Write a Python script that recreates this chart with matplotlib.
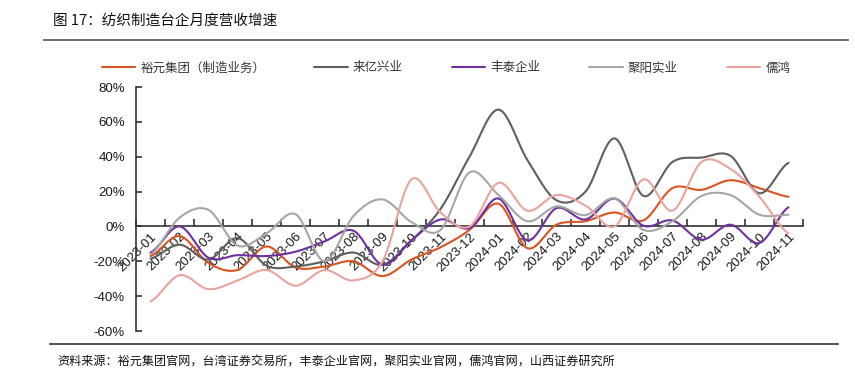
import numpy as np
import matplotlib
matplotlib.use("Agg")
import matplotlib.pyplot as plt
from matplotlib.lines import Line2D
from matplotlib.ticker import FixedLocator, FuncFormatter

plt.rcParams['font.family'] = ['Liberation Sans', 'Noto Sans CJK SC', 'DejaVu Sans']

months = ["2023-01", "2023-02", "2023-03", "2023-04", "2023-05", "2023-06",
          "2023-07", "2023-08", "2023-09", "2023-10", "2023-11", "2023-12",
          "2024-01", "2024-02", "2024-03", "2024-04", "2024-05", "2024-06",
          "2024-07", "2024-08", "2024-09", "2024-10", "2024-11"]

yuyuan = [-17, -5.5, -21, -25, -11.5, -23.5, -23, -20, -28.5, -19, -12, -2,
          13, -12.5, 1, 3, 8, 3.5, 22, 21, 26.5, 22, 17]
laiyi = [-18.5, -10.5, -19, -6.7, -22.5, -23, -20, -15, -22, -8, 10, 40,
         67, 38, 15, 20, 50.5, 17.5, 37, 39.5, 40.5, 19, 36.5]
fengtai = [-15, 0, -18, -16.5, -17, -14.5, -8.6, -2.5, -22, -8, 4, -1,
           16, -8, 10.5, 4, 16, 0.4, 3.4, -7.6, 1, -9.5, 11]
juyang = [-16, 5, 9.5, -11, -4, 7, -20, 6, 15.5, 2.5, -2, 31,
          18, 3, 11.5, 6.5, 16, -2, 3, 17.5, 18, 6.7, 6.7]
ruhong = [-43, -28, -36, -31, -25, -34, -25, -31, -20, 27, 8, 0,
          25, 9, 18, 12, 0, 27, 9, 37, 33, 17, -4]

names = ["裕元集团（制造业务）", "来亿兴业", "丰泰企业", "聚阳实业", "儒鸿"]
colors = ["#D9541F", "#5F5F5F", "#7030A0", "#A6A6A6", "#E8A49C"]
series = [yuyuan, laiyi, fengtai, juyang, ruhong]

yticks = [-60, -40, -20, 0, 20, 40, 60, 80]


def catmull_rom(y, n=24):
    y = np.asarray(y, dtype=float)
    x = np.arange(len(y), dtype=float)
    P = np.concatenate([[y[0]], y, [y[-1]]])
    xs, ys = [], []
    t = np.linspace(0, 1, n, endpoint=False)
    for i in range(len(y) - 1):
        p0, p1, p2, p3 = P[i], P[i + 1], P[i + 2], P[i + 3]
        seg = 0.5 * ((2 * p1) + (-p0 + p2) * t + (2 * p0 - 5 * p1 + 4 * p2 - p3) * t ** 2
                     + (-p0 + 3 * p1 - 3 * p2 + p3) * t ** 3)
        xs.append(x[i] + t)
        ys.append(seg)
    xs.append([x[-1]])
    ys.append([y[-1]])
    return np.concatenate(xs), np.concatenate(ys)


W, H = 855, 377
fig = plt.figure(figsize=(W / 100, H / 100), dpi=100)
ax = fig.add_axes([136 / W, 1 - 331 / H, (803 - 136) / W, (331 - 87) / H])

for s, c, nm in zip(series, colors, names):
    xs, ys = catmull_rom(s)
    ax.plot(xs, ys, color=c, lw=1.5, label=nm, solid_capstyle='round')

n = len(months)
ax.set_xlim(-0.5, n - 0.5)
ax.set_ylim(-60, 80)

for sp in ['top', 'right']:
    ax.spines[sp].set_visible(False)
ax.spines['bottom'].set_position(('data', 0))
ax.spines['bottom'].set_color('#333333')
ax.spines['left'].set_color('#333333')
ax.spines['bottom'].set_linewidth(1.2)
ax.spines['left'].set_linewidth(1.2)
ax.spines['bottom'].set_zorder(1)

ax.set_yticks(yticks)
ax.yaxis.set_major_formatter(FuncFormatter(lambda v, p: f"{int(v)}%"))
ax.tick_params(axis='y', direction='in', length=4, width=1.2, color='#333333',
               labelsize=9.5, pad=8, labelcolor='#1a1a1a')

ax.set_xticks(np.arange(n))
ax.set_xticklabels(months, rotation=45, ha='right', va='top', rotation_mode='anchor')
ax.xaxis.set_minor_locator(FixedLocator(np.arange(-0.5, n, 1.0)))
ax.tick_params(axis='x', which='major', length=0, labelsize=9.5, pad=3, labelcolor='#1a1a1a')
ax.tick_params(axis='x', which='minor', direction='in', length=5, width=1.2, color='#333333')

leg = ax.legend(loc='center left', bbox_to_anchor=(105 / W - 0.004, 1 - 68 / H),
                bbox_transform=fig.transFigure, ncol=5, frameon=False,
                prop={'family': ['Noto Sans CJK SC'], 'size': 9},
                handlelength=2.7, handletextpad=0.4, columnspacing=3.9,
                borderpad=0, borderaxespad=0)
for t in leg.get_texts():
    t.set_color('#333333')

fig.text(53 / W, 1 - 21 / H, "图 17：纺织制造台企月度营收增速", fontsize=10.5,
         family=['Noto Sans CJK SC'], va='center', ha='left', color='#111111')
fig.add_artist(Line2D([44 / W, 848 / W], [1 - 39.5 / H, 1 - 39.5 / H],
                      transform=fig.transFigure, color='#555555', lw=1.2))
fig.add_artist(Line2D([50 / W, 838 / W], [1 - 344 / H, 1 - 344 / H],
                      transform=fig.transFigure, color='#333333', lw=1.2))
fig.text(57 / W, 1 - 362 / H,
         "资料来源：裕元集团官网，台湾证券交易所，丰泰企业官网，聚阳实业官网，儒鸿官网，山西证券研究所",
         fontsize=8.7, family=['Noto Sans CJK SC'], va='center', ha='left', color='#111111')

fig.savefig("out.png", dpi=100)
